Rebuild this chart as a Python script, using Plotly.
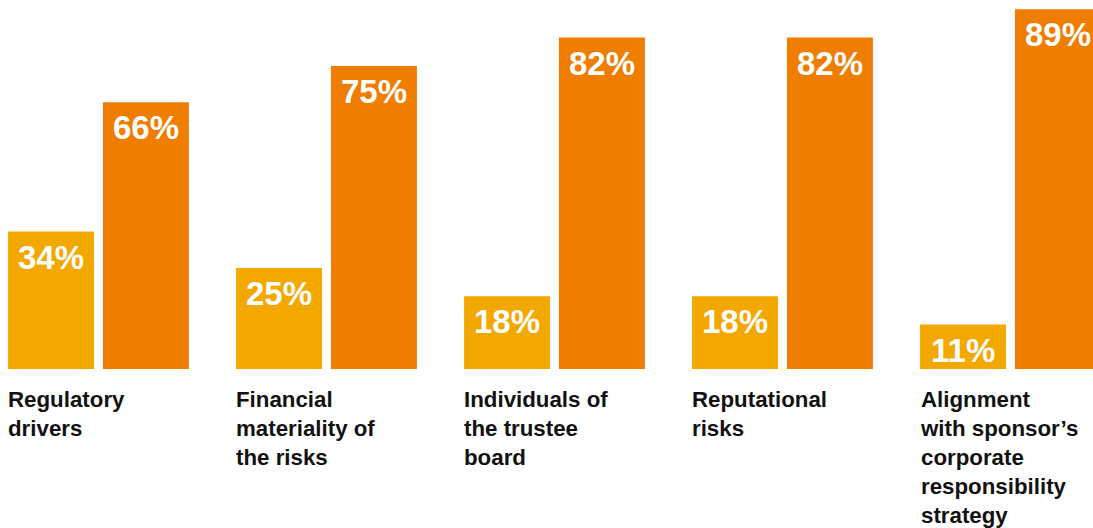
import plotly.graph_objects as go

# Survey categories and the two response shares per category
categories = [
    "Regulatory<br>drivers",
    "Financial<br>materiality of<br>the risks",
    "Individuals of<br>the trustee<br>board",
    "Reputational<br>risks",
    "Alignment<br>with sponsor’s<br>corporate<br>responsibility<br>strategy",
]
share_a = [34, 25, 18, 18, 11]
share_b = [66, 75, 82, 82, 89]

YELLOW = "#F3A800"
ORANGE = "#EE7D00"
FONT = "Liberation Sans, Arial, Helvetica, sans-serif"

offset = 0.208   # half distance between the two bars of a group
bar_w = 0.377

idx = list(range(len(categories)))
xa = [i - offset for i in idx]
xb = [i + offset for i in idx]

fig = go.Figure()
fig.add_trace(go.Bar(x=xa, y=share_a, width=bar_w, marker=dict(color=YELLOW, line=dict(width=0)),
                     hoverinfo="skip"))
fig.add_trace(go.Bar(x=xb, y=share_b, width=bar_w, marker=dict(color=ORANGE, line=dict(width=0)),
                     hoverinfo="skip"))

annotations = []
for xs, vals in ((xa, share_a), (xb, share_b)):
    for x, v in zip(xs, vals):
        annotations.append(dict(
            x=x, y=v, xref="x", yref="y", text=f"<b>{v}%</b>", showarrow=False,
            xanchor="center", yanchor="top", yshift=-5,
            font=dict(family=FONT, size=33, color="white"),
        ))

plot_h = 369
for i, label in enumerate(categories):
    annotations.append(dict(
        x=i - offset - bar_w / 2, y=-16 / plot_h, xref="x", yref="paper",
        text=f"<b>{label}</b>", showarrow=False, align="left",
        xanchor="left", yanchor="top", xshift=-2,
        font=dict(family=FONT, size=22.3, color="#111111"),
    ))

fig.update_layout(
    width=1093, height=528,
    margin=dict(l=0, r=0, t=0, b=528 - plot_h),
    paper_bgcolor="white", plot_bgcolor="white",
    showlegend=False,
    xaxis=dict(range=[-0.432, -0.432 + 1093 / 228], visible=False, fixedrange=True),
    yaxis=dict(range=[0, 91.3], visible=False, fixedrange=True),
    annotations=annotations,
)

fig.write_html("out.html", config={"displayModeBar": False})
